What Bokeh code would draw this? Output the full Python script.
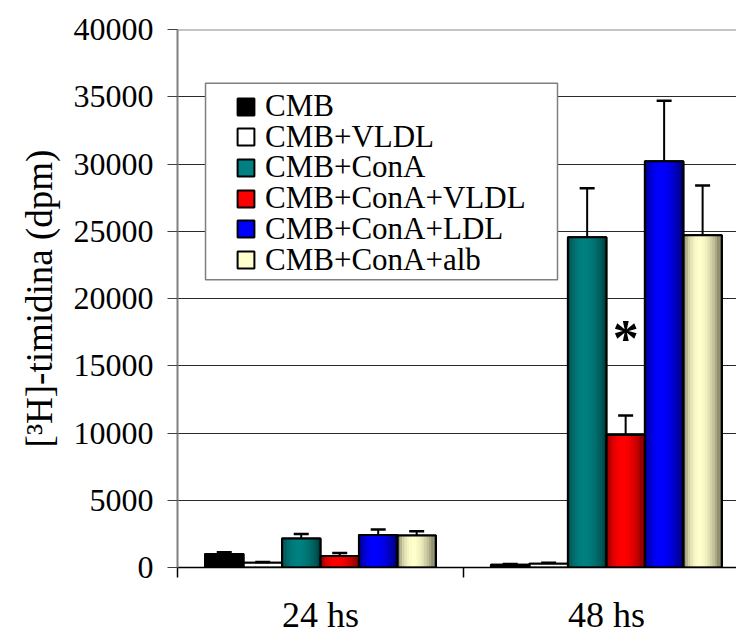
import numpy as np
from bokeh.plotting import figure
from bokeh.models import (Range1d, FixedTicker, Span, Legend, LegendItem, BoxAnnotation,
                          Whisker, TeeHead, ColumnDataSource)
from bokeh.core.properties import value
from bokeh.embed import file_html
from bokeh.resources import INLINE

# ---------------- data ----------------
categories = ["24 hs", "48 hs"]
series_names = ["CMB", "CMB+VLDL", "CMB+ConA", "CMB+ConA+VLDL", "CMB+ConA+LDL", "CMB+ConA+alb"]

cmb = [1000, 200]
cmb_vldl = [350, 280]
cmb_cona = [2150, 24550]
cmb_cona_vldl = [850, 9850]
cmb_cona_ldl = [2420, 30200]
cmb_cona_alb = [2370, 24700]

cmb_err = [130, 60]
cmb_vldl_err = [50, 70]
cmb_cona_err = [350, 3650]
cmb_cona_vldl_err = [230, 1450]
cmb_cona_ldl_err = [400, 4500]
cmb_cona_alb_err = [320, 3700]

y_ticks = list(range(0, 40001, 5000))
asterisk_y = 17000

# ---------------- styles ----------------
center_colors = ["#000000", "#ffffff", "#008080", "#ff0000", "#0000ff", "#ffffcc"]
edge_colors = ["#000000", "#ffffff", "#003838", "#6a0000", "#00005e", "#5e5e48"]
FONT = "Liberation Serif"

values = [cmb, cmb_vldl, cmb_cona, cmb_cona_vldl, cmb_cona_ldl, cmb_cona_alb]
errors = [cmb_err, cmb_vldl_err, cmb_cona_err, cmb_cona_vldl_err, cmb_cona_ldl_err, cmb_cona_alb_err]

bw = 0.1346
n_series = len(series_names)


def hex2rgb(h):
    h = h.lstrip("#")
    return np.array([int(h[i:i + 2], 16) for i in (0, 2, 4)], dtype=float)


def rgb2hex(c):
    c = np.clip(np.round(c), 0, 255).astype(int)
    return "#%02x%02x%02x" % tuple(c)


p = figure(width=736, height=637, x_range=Range1d(0, 1.955), y_range=Range1d(0, 40000),
           output_backend="svg", toolbar_location=None,
           min_border_left=177, min_border_right=0, min_border_top=29, min_border_bottom=68)
p.outline_line_color = None
p.background_fill_color = "white"
p.border_fill_color = "white"
p.xgrid.visible = False
p.ygrid.ticker = FixedTicker(ticks=y_ticks)
p.ygrid.grid_line_color = "#2a2a2a"
p.ygrid.grid_line_width = 1

p.add_layout(Span(location=40000, dimension="width", line_color="#8c8c8c", line_width=2))

# y axis
p.yaxis.ticker = FixedTicker(ticks=y_ticks)
p.yaxis.axis_line_color = "#808080"
p.yaxis.axis_line_width = 2
p.yaxis.major_tick_out = 10
p.yaxis.major_tick_in = 0
p.yaxis.minor_tick_line_color = None
p.yaxis.major_tick_line_color = "#404040"
p.yaxis.major_label_text_font = FONT
p.yaxis.major_label_text_font_size = "32px"
p.yaxis.major_label_text_color = "black"
p.yaxis.major_label_standoff = 14
p.yaxis.axis_label = "[³H]-timidina (dpm)"
p.yaxis.axis_label_text_font = FONT
p.yaxis.axis_label_text_font_size = "37px"
p.yaxis.axis_label_text_font_style = "normal"
p.yaxis.axis_label_text_color = "black"
p.yaxis.axis_label_standoff = 11

# x axis: tick marks at category boundaries, labels at category centres
p.xaxis.ticker = FixedTicker(ticks=[0.5, 1.5], minor_ticks=[0, 1, 2])
p.xaxis.major_label_overrides = {0.5: categories[0], 1.5: categories[1]}
p.xaxis.major_tick_out = 0
p.xaxis.major_tick_in = 0
p.xaxis.minor_tick_out = 10
p.xaxis.minor_tick_in = 0
p.xaxis.minor_tick_line_color = "black"
p.xaxis.minor_tick_line_width = 1.5
p.xaxis.axis_line_color = "black"
p.xaxis.axis_line_width = 1.5
p.xaxis.major_label_text_font = FONT
p.xaxis.major_label_text_font_size = "36px"
p.xaxis.major_label_text_color = "black"
p.xaxis.major_label_standoff = 17

# bars
n_strips = 16
strip_x, strip_top, strip_col = [], [], []
base_renderers = []
for si in range(n_series):
    xs = [ci + 0.5 + (si - (n_series - 1) / 2) * bw for ci in range(len(categories))]
    base = p.vbar(x=xs, top=values[si], width=bw, bottom=0,
                  fill_color=center_colors[si], line_color="black", line_width=2)
    base_renderers.append(base)
    c0 = hex2rgb(edge_colors[si])
    c1 = hex2rgb(center_colors[si])
    for ci, xc in enumerate(xs):
        for k in range(n_strips):
            t = (k + 0.5) / n_strips
            f = np.sin(np.pi * t ** 0.8) ** 0.8
            strip_x.append(xc - bw / 2 + t * bw)
            strip_top.append(values[si][ci])
            strip_col.append(rgb2hex(c0 + (c1 - c0) * f))

p.vbar(x=strip_x, top=strip_top, bottom=0, width=bw / n_strips * 1.05,
       fill_color=strip_col, line_color=None)

for si in range(n_series):
    xs = [ci + 0.5 + (si - (n_series - 1) / 2) * bw for ci in range(len(categories))]
    p.vbar(x=xs, top=values[si], width=bw, bottom=0,
           fill_color=None, line_color="black", line_width=2)
    src = ColumnDataSource(dict(x=xs, lower=values[si],
                                upper=[v + e for v, e in zip(values[si], errors[si])]))
    w = Whisker(source=src, base="x", lower="lower", upper="upper",
                line_color="black", line_width=2, lower_head=None,
                upper_head=TeeHead(size=15, line_color="black", line_width=2.5))
    w.level = "annotation"
    p.add_layout(w)

# asterisk over CMB+ConA+VLDL at 48 hs
x_star = 1 + 0.5 + (3 - (n_series - 1) / 2) * bw
p.text(x=[x_star], y=[asterisk_y], text=["*"], text_font=value(FONT), text_font_style="bold",
       text_font_size="52px", text_align="center", text_baseline="alphabetic", text_color="black")

# legend frame + one legend per row (tight row pitch)
p.add_layout(BoxAnnotation(left=0.098, right=1.329, top=36000, bottom=21400,
                           fill_color="white", fill_alpha=1, line_color="#7f7f7f",
                           line_width=1.5, line_alpha=1))
row_pitch = 30.7
first_row_bottom = 569 - 105.5 - 20.5
for si in range(n_series):
    lg = Legend(items=[LegendItem(label=series_names[si], renderers=[base_renderers[si]])],
                location=(58, first_row_bottom - si * row_pitch), padding=0, margin=0,
                glyph_width=21, glyph_height=21, label_standoff=9,
                border_line_alpha=0, background_fill_alpha=0,
                label_text_font=FONT, label_text_font_size="31px", label_text_color="black")
    p.add_layout(lg)

open("out.html", "w").write(file_html(p, INLINE))
